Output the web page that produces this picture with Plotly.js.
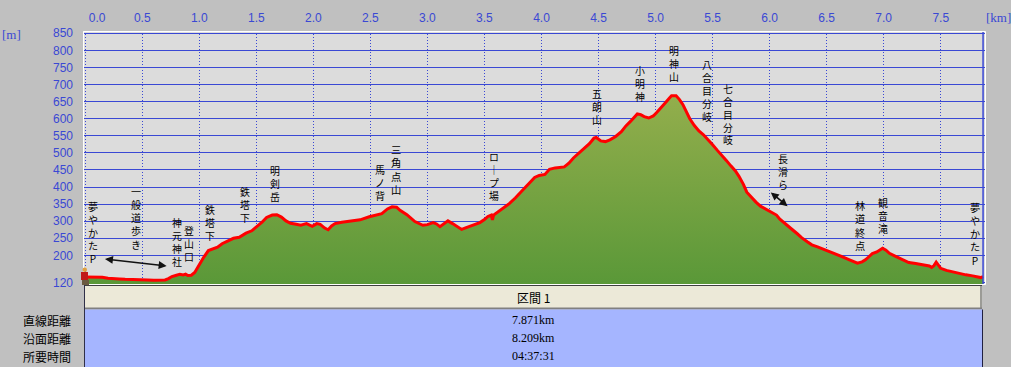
<!DOCTYPE html>
<html>
<head>
<meta charset="utf-8">
<script src="https://cdn.plot.ly/plotly-3.0.1.min.js"></script>
<style>
html,body{margin:0;padding:0;background:#c0c0c0;}
#chart{width:1011px;height:367px;}
</style>
</head>
<body>
<div id="chart"></div>
<script>
// ---------------- DATA ----------------
const distKm = [0.00,0.05,0.10,0.15,0.20,0.25,0.30,0.35,0.40,0.45,0.50,0.55,0.60,0.65,0.70,0.73,0.76,0.80,0.83,0.86,0.88,0.90,0.93,0.96,0.98,1.01,1.04,1.08,1.12,1.16,1.20,1.25,1.30,1.35,1.41,1.46,1.50,1.55,1.59,1.64,1.68,1.72,1.76,1.80,1.85,1.89,1.94,1.99,2.03,2.06,2.10,2.13,2.16,2.19,2.25,2.32,2.41,2.49,2.55,2.60,2.65,2.69,2.73,2.76,2.82,2.89,2.96,3.00,3.05,3.08,3.11,3.15,3.18,3.22,3.26,3.30,3.34,3.37,3.42,3.46,3.50,3.53,3.56,3.57,3.58,3.63,3.68,3.72,3.77,3.81,3.86,3.90,3.94,3.98,4.03,4.07,4.12,4.20,4.24,4.28,4.33,4.37,4.42,4.46,4.48,4.52,4.56,4.60,4.65,4.70,4.74,4.78,4.81,4.84,4.87,4.90,4.94,4.98,5.01,5.05,5.09,5.12,5.14,5.18,5.21,5.24,5.27,5.30,5.34,5.38,5.42,5.46,5.50,5.54,5.58,5.62,5.66,5.70,5.73,5.77,5.80,5.84,5.88,5.92,5.96,6.00,6.03,6.06,6.09,6.13,6.17,6.20,6.24,6.28,6.33,6.37,6.42,6.49,6.55,6.61,6.66,6.70,6.74,6.77,6.81,6.84,6.87,6.90,6.94,6.96,6.99,7.02,7.05,7.10,7.14,7.18,7.22,7.28,7.34,7.40,7.42,7.44,7.46,7.48,7.50,7.55,7.60,7.66,7.72,7.78,7.82,7.85,7.871];
const elevM = [137,137,137,136,133,131,131,130,130,129,129,128,127,127,128,132,138,142,145,143,145,141,142,150,162,178,195,214,219,224,234,243,250,253,265,272,282,297,311,318,319,312,301,294,291,288,293,285,293,291,280,275,286,293,297,300,304,313,318,322,336,342,341,332,319,299,288,290,296,292,284,294,301,293,285,276,281,285,291,296,305,314,318,304,318,330,340,352,368,382,398,412,428,434,437,452,456,459,470,485,500,510,527,543,545,535,533,538,548,562,579,592,603,614,612,606,602,608,618,632,648,660,667,667,656,641,620,600,580,564,553,540,524,508,494,478,462,447,432,408,385,370,356,344,337,330,325,318,306,294,284,275,264,252,240,231,225,216,208,201,193,187,181,177,181,187,196,205,210,214,221,215,206,198,192,185,179,176,172,169,165,170,180,172,162,156,152,147,143,140,138,135,138];

const xTickVals = [0,0.5,1.0,1.5,2.0,2.5,3.0,3.5,4.0,4.5,5.0,5.5,6.0,6.5,7.0,7.5];
const xTickText = ['0.0','0.5','1.0','1.5','2.0','2.5','3.0','3.5','4.0','4.5','5.0','5.5','6.0','6.5','7.0','7.5'];
const yTickVals = [120,200,250,300,350,400,450,500,550,600,650,700,750,800,850];
const yTickText = ['120','200','250','300','350','400','450','500','550','600','650','700','750','800','850'];

const totalKm = 7.871;

// waypoint names (vertical labels)
const wpNames = ['夢やかたP','一般道歩き','神元神社','登山口','鉄塔下','鉄塔下','明剣岳','馬ノ背','三角点山','ロ｜プ場','五朗山','小明神','明神山','八合目分岐','七合目分岐','長滑ら','林道終点','観音滝','夢やかたP'];
const wpKm    = [0.068,0.445,0.802,0.913,1.094,1.401,1.664,2.584,2.722,3.584,4.484,4.864,5.164,5.448,5.638,6.120,6.792,6.997,7.800];

const rowLabels = ['直線距離','沿面距離','所要時間'];
const rowValues = ['7.871km','8.209km','04:37:31'];
const sectionName = '区間 1';

// ---------------- LAYOUT HELPERS ----------------
const W = 1011, H = 367, ML = 83, MR = 26, MT = 31, MB = 82;
const PW = W - ML - MR, PH = H - MT - MB;
const px = v => (v - ML) / PW;            // pixel -> paper x
const py = v => (H - MB - v) / PH;        // pixel -> paper y

// label layout: elevation of first char centre, font size (line pitch = 1.3 * size)
const wpTopM  = [343,386,294,269,330,384,445,450,508,486,669,737,796,757,684,482,345,350,339];
const wpSize  = [10,10.1,9.9,9.9,9.9,9.9,9.9,10.1,10.3,9.9,9.9,9.9,9.9,10,9.9,10,10.2,9.9,10.1];

const BLUE = '#3a48d4';
const annotations = [];
wpNames.forEach((name, k) => {
  const s = wpSize[k];
  annotations.push({
    x: wpKm[k], y: wpTopM[k], xref: 'x', yref: 'y',
    text: Array.from(name).join('<br>'), showarrow: false,
    yanchor: 'top', xanchor: 'center', align: 'center',
    yshift: 2 + 0.78 * s,
    font: {family: 'Noto Sans CJK JP', size: s, color: '#000'}
  });
});
// double-headed arrows
const arrows = [[0.160,190,0.714,169],[5.997,388,6.157,344]];
arrows.forEach(a => {
  annotations.push({
    x: a[2], y: a[3], ax: a[0], ay: a[1], xref: 'x', yref: 'y', axref: 'x', ayref: 'y',
    text: '', showarrow: true, arrowside: 'end+start', arrowhead: 2, startarrowhead: 2,
    arrowsize: 1, startarrowsize: 1, arrowwidth: 1.6, arrowcolor: '#111'
  });
});
const paperText = (x, y, text, font, xanchor) => annotations.push({
  xref: 'paper', yref: 'paper', x: px(x), y: py(y), text: text, showarrow: false,
  xanchor: xanchor || 'center', yanchor: 'middle', font: font
});
// units
paperText(11, 35, '[m]', {family: 'Liberation Serif', size: 13, color: BLUE});
paperText(998, 17, '[km]', {family: 'Liberation Serif', size: 13, color: BLUE});
// table texts
paperText(533, 297.5, sectionName, {family: 'Noto Sans CJK JP', size: 12, color: '#000'});
rowLabels.forEach((t, i) => {
  paperText(73, 320 + i * 18, t, {family: 'Noto Sans CJK JP', size: 12, color: '#000'}, 'right');
  paperText(533, 320 + i * 18, rowValues[i], {family: 'Liberation Serif', size: 12, color: '#000'});
});

const shapes = [
  // right end of route
  {type:'line', xref:'x', yref:'paper', x0:totalKm, x1:totalKm, y0:0, y1:1, line:{color:BLUE,width:1.5}, layer:'above'},
  // white frame
  {type:'rect', xref:'paper', yref:'paper', x0:px(83.5), x1:px(985.5), y0:py(284.5), y1:py(31.5), line:{color:'#ffffff',width:1}, layer:'above'},
  // table header
  {type:'rect', xref:'paper', yref:'paper', x0:px(84), x1:px(982), y0:py(285), y1:py(309.5), fillcolor:'#ece9d8', line:{width:0}},
  {type:'line', xref:'paper', yref:'paper', x0:px(84), x1:px(982), y0:py(285.5), y1:py(285.5), line:{color:'#404040',width:1}},
  {type:'line', xref:'paper', yref:'paper', x0:px(84), x1:px(982), y0:py(308.5), y1:py(308.5), line:{color:'#808080',width:2}},
  {type:'line', xref:'paper', yref:'paper', x0:px(981), x1:px(981), y0:py(286), y1:py(309), line:{color:'#808080',width:1.5}},
  // table body
  {type:'rect', xref:'paper', yref:'paper', x0:px(84), x1:px(982.5), y0:py(309.5), y1:py(367), fillcolor:'#a5b5ff', line:{width:0}},
  {type:'line', xref:'paper', yref:'paper', x0:px(84.5), x1:px(84.5), y0:py(285), y1:py(367), line:{color:'#303048',width:1}},
  {type:'line', xref:'paper', yref:'paper', x0:px(982.5), x1:px(982.5), y0:py(309.5), y1:py(367), line:{color:'#202040',width:1}},
  // hiker icon at start
  {type:'rect', xref:'paper', yref:'paper', x0:px(81), x1:px(88), y0:py(280), y1:py(272), fillcolor:'#c01818', line:{width:0}, layer:'above'},
  {type:'circle', xref:'paper', yref:'paper', x0:px(82.5), x1:px(87), y0:py(272), y1:py(267.5), fillcolor:'#e0a040', line:{width:0}, layer:'above'},
  {type:'rect', xref:'paper', yref:'paper', x0:px(82), x1:px(89), y0:py(285), y1:py(280), fillcolor:'#6a5a40', line:{width:0}, layer:'above'}
];

const trace = {
  x: distKm, y: elevM, type: 'scatter', mode: 'lines',
  line: {color: '#ff0000', width: 3},
  fill: 'tozeroy',
  fillgradient: {type: 'vertical', start: 116, stop: 667,
    colorscale: [[0, '#5a9838'], [1, '#93ae4c']]},
  hoverinfo: 'skip'
};

const layout = {
  width: W, height: H,
  margin: {l: ML, r: MR, t: MT, b: MB, pad: 0},
  paper_bgcolor: '#c0c0c0', plot_bgcolor: '#dcdcdc',
  showlegend: false,
  xaxis: {
    side: 'top', range: [-0.0193, 7.888], tickvals: xTickVals, ticktext: xTickText,
    showgrid: true, gridcolor: BLUE, gridwidth: 1, griddash: '1px,2px',
    zeroline: false, showline: false, ticks: '', ticklabelstandoff: 6,
    tickfont: {family: 'Liberation Sans', size: 12, color: BLUE}, fixedrange: true
  },
  yaxis: {
    range: [113.3, 856.7], tickvals: yTickVals, ticktext: yTickText,
    showgrid: true, gridcolor: BLUE, gridwidth: 1,
    zeroline: false, showline: false, ticks: '', ticklabelstandoff: 9,
    tickfont: {family: 'Liberation Sans', size: 12, color: BLUE}, fixedrange: true
  },
  shapes: shapes,
  annotations: annotations
};

Plotly.newPlot('chart', [trace], layout, {displayModeBar: false, staticPlot: true}).then(gd => {
  // shift the first x tick label to the right like the reference
  const t = gd.querySelector('.xtick text');
  if (t) t.setAttribute('transform', (t.getAttribute('transform') || '') + ' translate(12,0)');
});
</script>
</body>
</html>
